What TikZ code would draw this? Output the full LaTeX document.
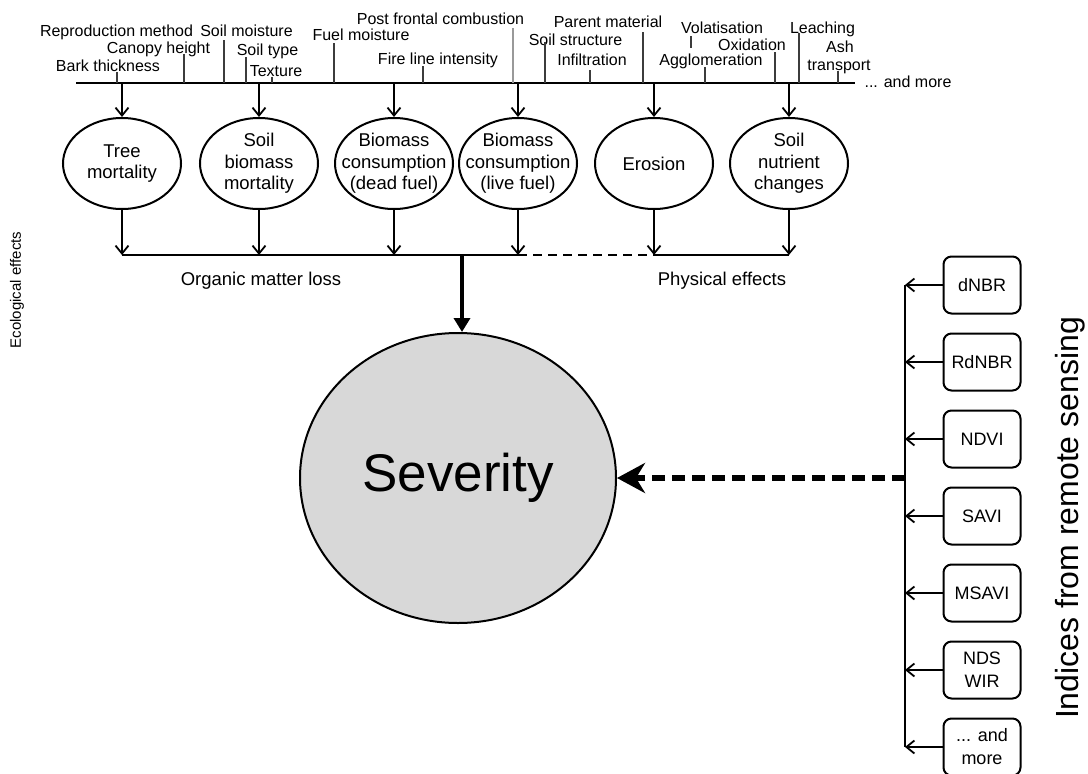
\documentclass[tikz,border=0pt]{standalone}
\usepackage{fontspec}
\setmainfont{Liberation Sans}
\usetikzlibrary{shapes.geometric,arrows.meta}
\definecolor{sevfill}{RGB}{216,216,216}
\definecolor{tickgray}{RGB}{60,60,60}
\begin{document}
\begin{tikzpicture}[x=1pt,y=-1pt,
  lbl/.style={font=\fontsize{16}{17}\selectfont, anchor=base, inner sep=0pt},
  eff/.style={ellipse, draw, line width=2pt, minimum width=118pt, minimum height=91pt, inner sep=-25pt, align=center, font=\fontsize{18.5}{21.5}\selectfont},
  idx/.style={draw, rounded corners=8pt, line width=2pt, minimum width=77pt, minimum height=57pt, inner sep=0pt, align=center, font=\fontsize{18}{23}\selectfont},
  tickline/.style={line width=1.5pt, draw=tickgray},
  thinline/.style={line width=1.8pt},
  sarr/.style={thinline, -{Straight Barb[length=8pt,width=13pt,line width=1.8pt]}},
  grouplbl/.style={font=\fontsize{18.5}{21}\selectfont, anchor=base, inner sep=0pt},
]
\useasboundingbox (0,0) rectangle (1088,774);

% top axis
\coordinate (L0) at (76,83);
\coordinate (L1) at (855,83);
\draw[thinline] (L0) -- (L1);
\node[lbl] (more) at (908,87) {... and more};

% labels
\node[lbl] (l1) at (116.5,36) {Reproduction method};
\node[lbl] (l2) at (158.5,53) {Canopy height};
\node[lbl] (l3) at (108,71) {Bark thickness};
\node[lbl] (l4) at (246.5,36) {Soil moisture};
\node[lbl] (l5) at (267.5,55) {Soil type};
\node[lbl] (l6) at (276,76) {Texture};
\node[lbl] (l7) at (361,40) {Fuel moisture};
\node[lbl] (l8) at (440.5,24) {Post frontal combustion};
\node[lbl] (l9) at (438,64) {Fire line intensity};
\node[lbl] (l10) at (575.5,45) {Soil structure};
\node[lbl] (l11) at (592,65) {Infiltration};
\node[lbl] (l12) at (608,27) {Parent material};
\node[lbl] (l13) at (722,33) {Volatisation};
\node[lbl] (l14) at (752,50) {Oxidation};
\node[lbl] (l15) at (711,65) {Agglomeration};
\node[lbl] (l16) at (822.5,33) {Leaching};
\node[lbl] (l17a) at (840,52) {Ash};
\node[lbl] (l17b) at (839,70) {transport};

% ticks
\foreach \tx/\ty in {117/72,184/54,224/40,246/57,272/77,334/43,423/66,545/42,590/70,643/32,705/67,775/52,799/33,838/71}{
  \coordinate (tk) at (\tx,\ty);
  \draw[tickline] (tk) -- (tk |- L0);
}
\coordinate (tkpf) at (513,28);
\draw[line width=1.2pt, draw=black!40] (tkpf) -- (tkpf |- L0);
\coordinate (tva) at (691,36);
\coordinate (tvb) at (691,48);
\draw[tickline] (tva) -- (tvb);

% effects
\node[eff] (e1) at (122,163.5) {Tree\\mortality};
\node[eff] (e2) at (259,163.5) {Soil\\biomass\\mortality};
\node[eff] (e3) at (394,163.5) {Biomass\\consumption\\(dead fuel)};
\node[eff] (e4) at (518,163.5) {Biomass\\consumption\\(live fuel)};
\node[eff] (e5) at (654,163.5) {Erosion};
\node[eff] (e6) at (789,163.5) {Soil\\nutrient\\changes};

\coordinate (B0) at (122,255);
\foreach \e/\xx in {e1/122,e2/259,e3/394,e4/518,e5/654,e6/789}{
  \coordinate (ta) at (\xx,83);
  \draw[sarr] (ta) -- (ta |- \e.north);
  \coordinate (tb) at (\xx,209);
  \draw[sarr] (\e.south) -- (\e.south |- B0);
}
\coordinate (B1) at (518,255);
\coordinate (B2) at (654,255);
\coordinate (B3) at (789,255);
\draw[thinline] (B0) -- (B1);
\draw[thinline, dash pattern=on 9pt off 6pt] (B1) -- (B2);
\draw[thinline] (B2) -- (B3);

\node[grouplbl] (oml) at (261,285) {Organic matter loss};
\node[grouplbl] (phe) at (722,285) {Physical effects};

% severity
\node[ellipse, draw, line width=2pt, fill=sevfill, minimum width=316pt, minimum height=290pt, inner sep=0pt, font=\fontsize{53}{60}\selectfont] (sev) at (458,478) {Severity};
\coordinate (Tk) at (462,255);
\draw[line width=4.5pt, -{Triangle[length=14pt,width=16pt]}] (Tk) -- (Tk |- sev.north);

% indices
\node[idx] (b1) at (982,285) {dNBR};
\node[idx] (b2) at (982,362) {RdNBR};
\node[idx] (b3) at (982,439) {NDVI};
\node[idx] (b4) at (982,516) {SAVI};
\node[idx] (b5) at (982,593) {MSAVI};
\node[idx] (b6) at (982,670) {NDS\\WIR};
\node[idx] (b7) at (982,747) {... and\\more};
\coordinate (V) at (905,285);
\draw[thinline] (b1.west -| V) -- (b7.west -| V);
\foreach \b in {b1,b2,b3,b4,b5,b6,b7}{
  \draw[sarr] (\b.west) -- (\b.west -| V);
}
\draw[line width=6pt, dash pattern=on 13pt off 7pt, -{Stealth[length=28pt,width=30pt,inset=9pt]}] (sev.east -| V) -- (sev.east);

\node[rotate=90, font=\fontsize{32}{36}\selectfont, inner sep=0pt] (ind) at (1070,518) {Indices from remote sensing};
\node[rotate=90, font=\fontsize{15}{17}\selectfont, inner sep=0pt] (eco) at (17,290) {Ecological effects};
\end{tikzpicture}
\end{document}
